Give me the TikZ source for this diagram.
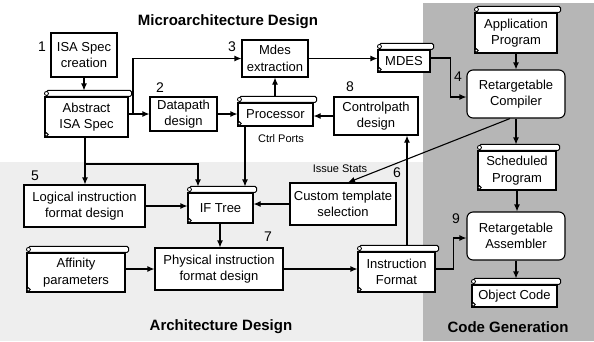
\documentclass[tikz,border=0pt]{standalone}
\usepackage{fontspec}
\setmainfont{Liberation Sans}
\usetikzlibrary{arrows.meta,calc}
\pgfdeclarelayer{bg}
\pgfsetlayers{bg,main}

% Rolled bar on top of a document node, with small curls on the left
\newcommand\scrolldeco[1]{%
  \draw[line width=1pt, fill=white, rounded corners=1.5pt] ([xshift=2pt,yshift=6pt]#1.north west) rectangle ([xshift=3pt]#1.north east);
  \draw[line width=0.8pt, fill=white] ([xshift=2pt,yshift=3pt]#1.north west) circle (2pt);
  \draw[line width=0.8pt, fill=white] ([xshift=2pt,yshift=3pt]#1.south west) circle (1.8pt);}

\begin{document}
\begin{tikzpicture}[x=1pt,y=-1pt,
  lw/.style={line width=1.1pt},
  txt/.style={font=\fontsize{13}{16.5}\selectfont, align=center, inner sep=0pt},
  box/.style={txt, lw, draw, fill=white},
  rbox/.style={box, rounded corners=6pt},
  scroll/.style={box},
  arr/.style={lw, -{Latex[length=7pt,width=6pt]}},
  num/.style={font=\fontsize{14}{14}\selectfont, inner sep=0pt},
  small/.style={font=\fontsize{11}{11}\selectfont, inner sep=0pt},
  title/.style={font=\bfseries\fontsize{15}{15}\selectfont, inner sep=0pt}]

\useasboundingbox (0,0) rectangle (594,341);
\begin{pgfonlayer}{bg}
  \fill[white] (0,0) rectangle (594,341);
  \fill[gray!13] (0,162) rectangle (423,341);
  \fill[gray!57] (423,3) rectangle (594,341);
\end{pgfonlayer}

% Region titles
\node[title] (tmicro) at (228,22) {Microarchitecture Design};
\node[title] (tarch) at (221,327) {Architecture Design};
\node[title] (tcode) at (508,327) {Code Generation};

% Process and data nodes
\node[box, minimum width=66pt, minimum height=44pt] (isa) at (84,55) {ISA Spec\\creation};
\node[scroll, minimum width=83pt, minimum height=40pt] (abs) at (86.5,117) {Abstract\\ISA Spec};
\node[box, minimum width=67pt, minimum height=34pt] (dp) at (183.5,114) {Datapath\\design};
\node[box, minimum width=66pt, minimum height=37pt] (mdx) at (275,58.5) {Mdes\\extraction};
\node[scroll, minimum width=52pt, minimum height=22pt] (mdes) at (404,61) {MDES};
\node[scroll, minimum width=75pt, minimum height=23pt] (proc) at (275.5,114.5) {Processor};
\node[box, minimum width=84pt, minimum height=38pt] (cp) at (376,116) {Controlpath\\design};
\node[scroll, minimum width=82pt, minimum height=40pt] (app) at (516,33) {Application\\Program};
\node[rbox, minimum width=98pt, minimum height=48pt] (comp) at (516,94) {Retargetable\\Compiler};
\node[scroll, minimum width=78pt, minimum height=39pt] (sched) at (517,170.5) {Scheduled\\Program};
\node[rbox, minimum width=98pt, minimum height=48pt] (asm) at (516,236) {Retargetable\\Assembler};
\node[scroll, minimum width=85pt, minimum height=22pt] (obj) at (514.5,296) {Object Code};
\node[scroll, minimum width=77pt, minimum height=40pt] (ifmt) at (396.5,272) {Instruction\\Format};
\node[box, minimum width=106pt, minimum height=42pt] (cts) at (343,204) {Custom template\\selection};
\node[scroll, minimum width=65pt, minimum height=30pt] (ift) at (220.5,208) {IF Tree};
\node[box, minimum width=121pt, minimum height=42pt] (lif) at (84.5,206) {Logical instruction\\format design};
\node[scroll, minimum width=98pt, minimum height=39pt] (aff) at (76,272.5) {Affinity\\parameters};
\node[box, minimum width=128pt, minimum height=42pt] (pif) at (219,269) {Physical instruction\\format design};

\scrolldeco{abs}
\scrolldeco{mdes}
\scrolldeco{proc}
\scrolldeco{app}
\scrolldeco{sched}
\scrolldeco{obj}
\scrolldeco{ifmt}
\scrolldeco{ift}
\scrolldeco{aff}

% Step numbers and connector labels
\node[num] (n1) at (42,47) {1};
\node[num] (n2) at (160,88) {2};
\node[num] (n3) at (232,47) {3};
\node[num] (n4) at (458,77) {4};
\node[num] (n5) at (35,176) {5};
\node[num] (n6) at (397,173) {6};
\node[num] (n7) at (268,237) {7};
\node[num] (n8) at (350,87) {8};
\node[num] (n9) at (456,219) {9};
\node[small] (ctrl) at (281,139) {Ctrl Ports};
\node[small] (issue) at (340,169) {Issue Stats};

% Connectors
\coordinate (j1) at (133,114);
\coordinate (j2) at (85,164);
\draw[arr] (isa.south) -- ([yshift=6pt]isa.south |- abs.north);
\draw[arr] (abs.east |- dp.west) -- (dp.west);
\draw[arr] (j1) |- (mdx.west);
\draw[arr] (dp.east) -- (dp.east -| proc.west);
\draw[arr] ([yshift=6pt]proc.north -| mdx.south) -- (mdx.south);
\draw[arr] (mdx.east) -- (mdx.east -| mdes.west);
\draw[arr] ([yshift=3pt]mdes.east) -- ++(20,0) |- ([yshift=-3pt]comp.west);
\draw[arr] (cp.west) -- (cp.west -| proc.east);
\draw[arr] (app.south) -- (app.south |- comp.north);
\draw[arr] (comp.south) -- ([yshift=6pt]comp.south |- sched.north);
\draw[arr] ([xshift=-6pt]comp.south) -- ([xshift=5pt]cts.north);
\draw[arr] (cts.west) -- (cts.west -| ift.east);
\draw[arr] ([xshift=10.5pt,yshift=6pt]ifmt.north) -- ([xshift=10.5pt]ifmt.north |- cp.south);
\draw[arr] (sched.south) -- (sched.south |- asm.north);
\draw[arr] ([yshift=3pt]ifmt.east) -- ++(18,0) |- ([yshift=-2pt]asm.west);
\draw[arr] (asm.south) -- ([yshift=6pt]asm.south |- obj.north);
\draw[arr] ([xshift=-1.5pt]abs.south) -- ([xshift=-1.5pt]abs.south |- lif.north);
\draw[arr] (j2) -| ([xshift=-22.5pt,yshift=6pt]ift.north);
\draw[arr] ([xshift=-30.5pt]proc.south) -- ([xshift=-30.5pt,yshift=6pt]proc.south |- ift.north);
\draw[arr] (lif.east) -- (lif.east -| ift.west);
\draw[arr] ([xshift=-0.5pt]ift.south) -- ([xshift=-0.5pt]ift.south |- pif.north);
\draw[arr] (aff.east |- pif.west) -- (pif.west);
\draw[arr] (pif.east) -- (pif.east -| ifmt.west);
\end{tikzpicture}
\end{document}
